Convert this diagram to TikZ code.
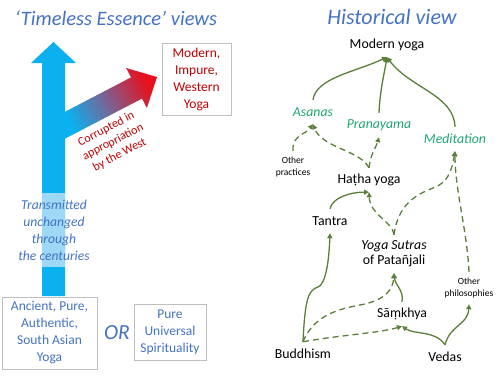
\documentclass[tikz,border=0pt]{standalone}
\usepackage{fontspec}
\setmainfont{Carlito}
\usetikzlibrary{arrows.meta}
\definecolor{tblue}{HTML}{4472C4}
\definecolor{sky}{HTML}{0BB0EE}
\definecolor{skyl}{HTML}{9DD9F7}
\definecolor{dred}{HTML}{C00000}
\definecolor{bred}{HTML}{E8101C}
\definecolor{bmid}{HTML}{7F5F8F}
\definecolor{gline}{HTML}{5A7F3A}
\definecolor{gtext}{HTML}{1FA66E}
\definecolor{bgrey}{HTML}{BFBFBF}
\pgfdeclarehorizontalshading{branchshade}{100bp}{color(0bp)=(sky); color(25bp)=(sky); color(50bp)=(bmid); color(75bp)=(bred); color(100bp)=(bred)}
\begin{document}
\begin{tikzpicture}[x=1pt,y=-1pt,
  title/.style={inner sep=0pt, text=tblue, font=\fontsize{20.5}{24}\selectfont\itshape},
  box/.style={draw=bgrey, line width=0.8pt, inner sep=0pt, align=center},
  btext/.style={text=tblue, font=\fontsize{13.5}{17}\selectfont},
  rn/.style={inner sep=0pt, minimum height=24pt, text=black, font=\fontsize{13.8}{16}\selectfont},
  gn/.style={rn, text=gtext, font=\fontsize{13.8}{16}\selectfont\itshape},
  small/.style={inner sep=0pt, align=center, text=black, font=\fontsize{9.5}{12}\selectfont},
  conn/.style={draw=gline, line width=1.3pt, -{Triangle[length=5pt,width=5pt]}},
  dconn/.style={conn, dash pattern=on 6pt off 4pt}]
\useasboundingbox (0,0) rectangle (500,375);

% titles
\node[title] (t1) at (116,18) {‘Timeless Essence’ views};
\node[title, font=\fontsize{22}{24}\selectfont\itshape] (t2) at (392,17) {Historical view};

% blue vertical arrow
\fill[sky] (42,296) -- (42,63) -- (31,63) -- (53.5,42) -- (76,63) -- (65,63) -- (65,296) -- cycle;
\fill[skyl] (42,193) rectangle (65,267);
% branch arrow with gradient
\shade[shading=branchshade, shading angle=27.5]
  (63,112.8) -- (131,77.4) -- (126.1,68) -- (157,77) -- (146.9,108) -- (142,98.6) -- (63,139.7) -- cycle;

\node[inner sep=0pt, align=center, rotate=27.5, text=dred, font=\fontsize{12}{14.5}\selectfont] (corr) at (113,142) {Corrupted in\\appropriation\\by the West};

\node[inner sep=0pt, align=center, text=tblue, font=\fontsize{13.6}{17}\selectfont\itshape] (trans) at (54,230) {Transmitted\\unchanged\\through\\the centuries};

% boxes
\node[box, btext, text=dred, minimum width=69pt, minimum height=72pt] (mod) at (196.5,79) {Modern,\\Impure,\\Western\\Yoga};
\node[box, btext, minimum width=95pt, minimum height=72pt] (anc) at (49.5,333) {Ancient, Pure,\\Authentic,\\South Asian\\Yoga};
\node[inner sep=0pt, text=tblue, font=\fontsize{21.5}{24}\selectfont\itshape] (or) at (117,333) {OR};
\node[box, btext, minimum width=72pt, minimum height=56pt] (pure) at (170,332) {Pure\\Universal\\Spirituality};

% historical view nodes
\node[rn] (my) at (387,45) {Modern yoga};
\node[gn] (as) at (313,112) {Asanas};
\node[gn] (pr) at (379,125) {Pranayama};
\node[gn] (me) at (455,139) {Meditation};
\node[small, minimum height=32pt] (op) at (293,167) {Other\\practices};
\node[rn] (ha) at (369,180) {Haṭha yoga};
\node[rn] (ta) at (330,221) {Tantra};
\node[rn, align=center, minimum height=38pt, font=\fontsize{13.8}{15}\selectfont] (ys) at (394,254) {\textit{Yoga Sutras}\\of Patañjali};
\node[small, minimum height=32pt] (oph) at (469,288) {Other\\philosophies};
\node[rn] (sa) at (402,314) {Sāṃkhya};
\node[rn] (bu) at (303,354) {Buddhism};
\node[rn] (ve) at (445,357) {Vedas};

% solid connectors
\draw[conn] (as.north) .. controls (316,78) and (355,72) .. (my.south);
\draw[conn] (pr.north) .. controls (380,90) and (384,75) .. (my.south);
\draw[conn] (me.north) .. controls (454,95) and (410,88) .. (my.south);
\draw[conn] (ta.north) .. controls (332,198) and (350,192) .. (ha.south);
\draw[conn] (bu.north) .. controls (305,300) and (308,290) .. (318,287) .. controls (326,284) and (329,260) .. (ta.south);
\draw[conn] (sa.north) .. controls (404,290) and (395,285) .. (ys.south);
\draw[conn] (ve.north) .. controls (435,330) and (415,335) .. (sa.south);
\draw[conn] (ve.north) .. controls (450,325) and (468,325) .. (oph.south);

% dashed connectors
\draw[dconn] (op.north) .. controls (292,135) and (305,135) .. (as.south);
\draw[dconn] (ha.north) .. controls (360,150) and (322,148) .. (as.south);
\draw[dconn] (ha.north) .. controls (371,152) and (376,148) .. (pr.south);
\draw[dconn] (ys.north) .. controls (393,222) and (370,215) .. (ha.south);
\draw[dconn] (ys.north) .. controls (398,205) and (415,195) .. (433,188) .. controls (448,183) and (452,170) .. (me.south);
\draw[dconn] (oph.north) .. controls (467,230) and (455,190) .. (me.south);
\draw[dconn] (bu.north) .. controls (315,312) and (345,308) .. (365,304) .. controls (385,299) and (393,290) .. (ys.south);
\draw[dconn] (bu.north) .. controls (340,335) and (380,333) .. (sa.south);
\end{tikzpicture}
\end{document}
